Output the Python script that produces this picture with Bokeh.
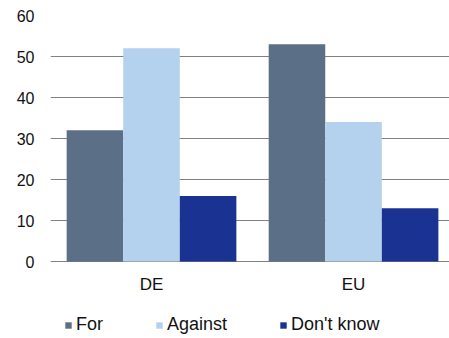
from bokeh.plotting import figure
from bokeh.models import Range1d, FixedTicker, Legend, LegendItem, ColumnDataSource
from bokeh.core.properties import value
from bokeh.embed import file_html
from bokeh.resources import INLINE

# Survey results: share of respondents per answer, by region
regions = ["DE", "EU"]
answers = ["For", "Against", "Don't know"]
for_vals = [32, 53]
against_vals = [52, 34]
dont_know_vals = [16, 13]
y_ticks = [0, 10, 20, 30, 40, 50, 60]

series = [for_vals, against_vals, dont_know_vals]
colors = ["#5b7087", "#b4d1ee", "#1a3393"]

FONT = "Liberation Sans"

# The frame runs to the bottom edge so the region labels and the legend
# can sit beneath the zero line inside it.
p = figure(width=449, height=338, output_backend="svg", toolbar_location=None,
           x_range=Range1d(0, 1.975), y_range=Range1d(-18.78, 60),
           min_border_left=50, min_border_right=0, min_border_top=15,
           min_border_bottom=0)
p.outline_line_color = None
p.background_fill_color = "white"
p.border_fill_color = "white"

bar_w = 0.28
centers = [i + 0.5 for i in range(len(regions))]
renderers = []
for k, (vals, col) in enumerate(zip(series, colors)):
    xs = [c + (k - 1) * bar_w for c in centers]
    src = ColumnDataSource(dict(x=xs, top=vals))
    r = p.vbar(x="x", top="top", width=bar_w, bottom=0, source=src,
               fill_color=col, line_color=None)
    renderers.append(r)

# y axis: labels only, no line or ticks
p.yaxis.ticker = FixedTicker(ticks=y_ticks)
p.yaxis.axis_line_color = None
p.yaxis.major_tick_line_color = None
p.yaxis.major_tick_out = 0
p.yaxis.minor_tick_line_color = None
p.yaxis.major_label_text_font = FONT
p.yaxis.major_label_text_font_size = "16px"
p.yaxis.major_label_text_color = "#111111"
p.yaxis.major_label_standoff = 16

p.xaxis.visible = False
p.xgrid.grid_line_color = None
p.ygrid.ticker = FixedTicker(ticks=y_ticks)
p.ygrid.grid_line_color = "#808080"
p.ygrid.grid_line_width = 1

# region names under each group of bars
p.text(x=centers, y=[0] * len(regions), text=regions, y_offset=23,
       text_align="center", text_baseline="middle",
       text_font=value(FONT), text_font_size="17px", text_color="#111111")

legend = Legend(items=[LegendItem(label=a, renderers=[r]) for a, r in zip(answers, renderers)],
                orientation="horizontal", location=(14, 3),
                glyph_width=8, glyph_height=8, label_standoff=4, spacing=52,
                label_text_font=FONT, label_text_font_size="18px",
                label_text_color="#111111", border_line_color=None,
                background_fill_alpha=0, padding=0, margin=0)
p.add_layout(legend, "center")

open("out.html", "w").write(file_html(p, INLINE))
